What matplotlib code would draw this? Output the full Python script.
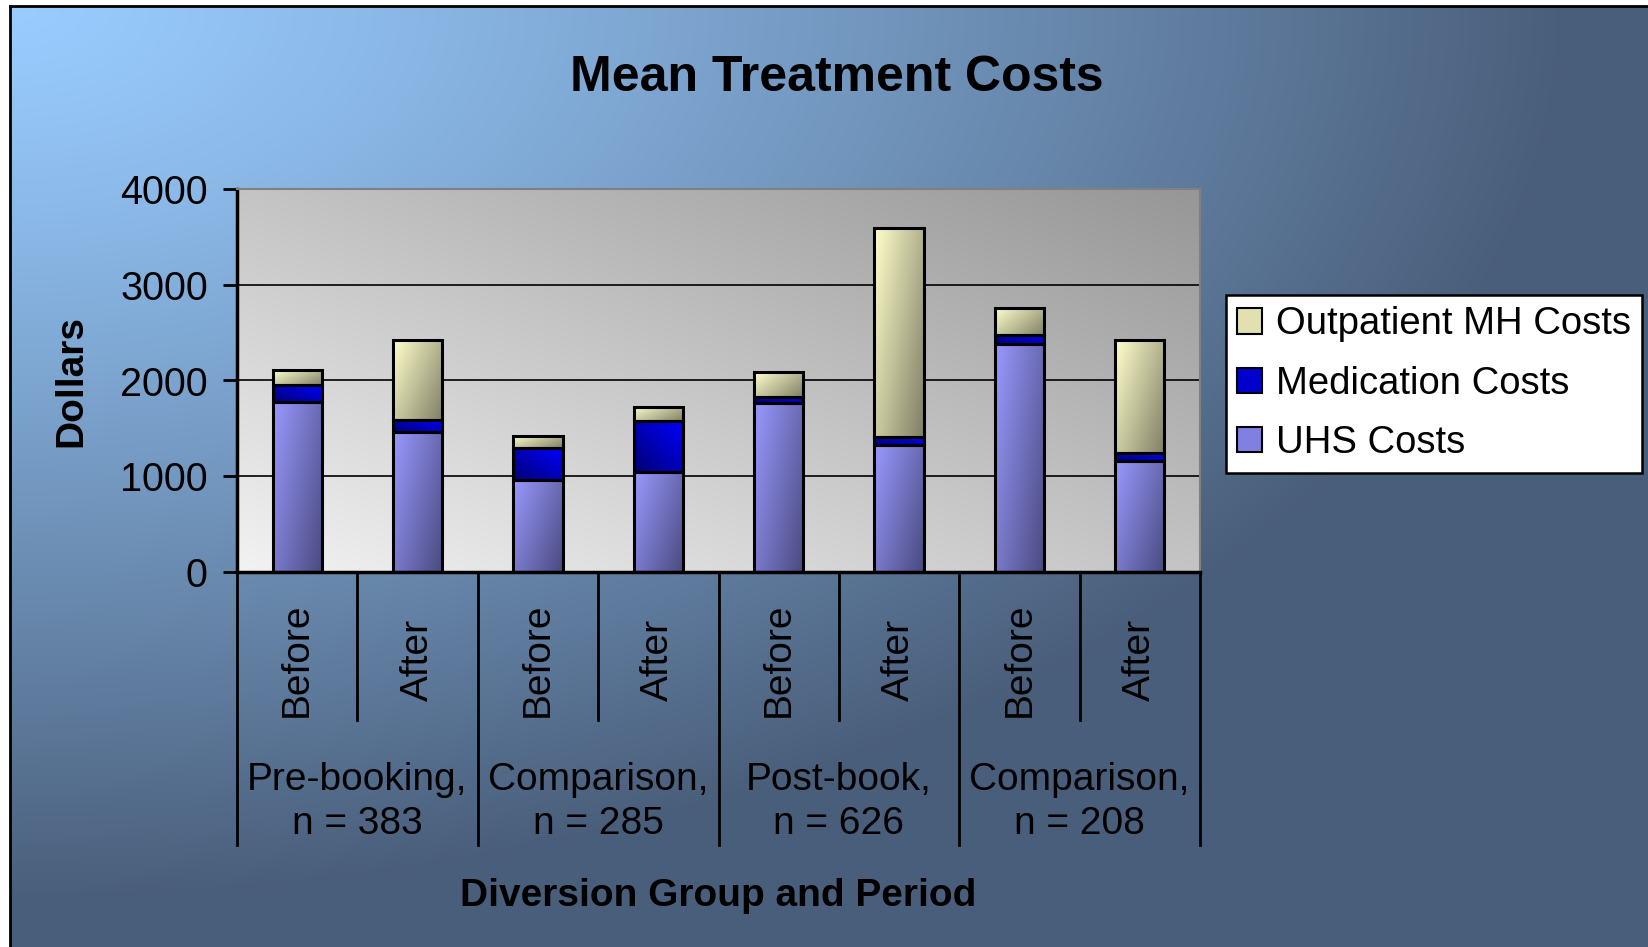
import numpy as np
import matplotlib.pyplot as plt
from matplotlib.patches import Patch
from matplotlib.transforms import blended_transform_factory

plt.rcParams['font.family'] = ['Liberation Sans', 'DejaVu Sans']

# data
groups = ['Pre-booking,\nn = 383', 'Comparison,\nn = 285',
          'Post-book,\nn = 626', 'Comparison,\nn = 208']
periods = ['Before', 'After', 'Before', 'After', 'Before', 'After', 'Before', 'After']
uhs = [1780, 1460, 960, 1040, 1760, 1325, 2380, 1160]
medication = [175, 130, 330, 535, 70, 90, 95, 85]
outpatient = [150, 830, 130, 150, 255, 2175, 280, 1175]
series_names = ['UHS Costs', 'Medication Costs', 'Outpatient MH Costs']
yticks = [0, 1000, 2000, 3000, 4000]

UHS_LIGHT, UHS_DARK = (0.60, 0.60, 1.00), (0.29, 0.29, 0.50)
MED_LIGHT, MED_DARK = (0.00, 0.00, 1.00), (0.00, 0.00, 0.45)
OUT_LIGHT, OUT_DARK = (1.00, 1.00, 0.80), (0.50, 0.50, 0.40)


def gradient_fill(ax, patch, light, dark, flip=False):
    x0, y0 = patch.get_xy()
    w, h = patch.get_width(), patch.get_height()
    u = np.linspace(0, 1, 40)[None, :]
    v = np.linspace(0, 1, 60)[:, None]
    if flip:
        t = 0.5 * (1 - u) + 0.5 * (1 - v)
    else:
        t = 0.6 * u + 0.4 * (1 - v)
    light = np.array(light)
    dark = np.array(dark)
    img = light * (1 - t[..., None]) + dark * t[..., None]
    im = ax.imshow(img, extent=(x0, x0 + w, y0, y0 + h), origin='lower',
                   aspect='auto', zorder=2, interpolation='bilinear')
    im.set_clip_path(patch)


fig = plt.figure(figsize=(16.48, 9.47), dpi=100, facecolor='white')

# figure background gradient, light blue top-left to slate bottom-right
bg = fig.add_axes([10 / 1648, 0, 1 - 10 / 1648, 1 - 6 / 947], zorder=0)
yy, xx = np.mgrid[0:1:200j, 0:1:340j]
t = np.clip(np.sqrt(xx ** 2 + yy ** 2) / 0.95, 0, 1) ** 1.2
c0 = np.array([0.60, 0.80, 1.00])
c1 = np.array([0.29, 0.37, 0.48])
bg.imshow(c0 * (1 - t[..., None]) + c1 * t[..., None], aspect='auto',
          extent=(0, 1, 0, 1), interpolation='bilinear')
bg.set_xticks([])
bg.set_yticks([])
bg.spines['right'].set_visible(False)
bg.spines['bottom'].set_visible(False)
bg.spines['left'].set_linewidth(2)
bg.spines['top'].set_linewidth(2)

ax = fig.add_axes([237 / 1648, 375 / 947, 963 / 1648, 383 / 947], zorder=1)
ax.set_facecolor('none')

# plot area gradient
u = np.linspace(0, 1, 100)[None, :]
v = np.linspace(0, 1, 100)[:, None]
g = 0.95 - 0.36 * (u + v) / 2
ax.imshow(np.dstack([g, g, g]), extent=(0, 1, 0, 1), origin='lower',
          transform=ax.transAxes, aspect='auto', zorder=0, interpolation='bilinear')

x = np.arange(len(periods))
bw = 0.41
b1 = ax.bar(x, uhs, bw, facecolor='none', edgecolor='black', linewidth=2.2, zorder=3)
bottom2 = np.array(uhs)
b2 = ax.bar(x, medication, bw, bottom=bottom2, facecolor='none',
            edgecolor='black', linewidth=2.2, zorder=3)
bottom3 = bottom2 + np.array(medication)
b3 = ax.bar(x, outpatient, bw, bottom=bottom3, facecolor='none',
            edgecolor='black', linewidth=2.2, zorder=3)
for p in b1:
    gradient_fill(ax, p, UHS_LIGHT, UHS_DARK)
for p in b2:
    gradient_fill(ax, p, MED_LIGHT, MED_DARK, flip=True)
for p in b3:
    gradient_fill(ax, p, OUT_LIGHT, OUT_DARK)

ax.set_xlim(-0.5, len(periods) - 0.5)
ax.set_ylim(0, 4000)
ax.set_yticks(yticks)
ax.set_yticklabels([str(v) for v in yticks], fontsize=28.5)
ax.tick_params(axis='y', direction='out', length=10, width=2, pad=11)
ax.set_xticks([])
ax.yaxis.grid(True, color='black', linewidth=1.2)
ax.set_axisbelow(True)
for s in ['left', 'bottom']:
    ax.spines[s].set_linewidth(2.5)
for s in ['top', 'right']:
    ax.spines[s].set_color('#808080')
    ax.spines[s].set_linewidth(1.5)

# multi-level category axis
trans = blended_transform_factory(ax.transData, ax.transAxes)
for k in range(len(periods) + 1):
    low = -0.713 if k % 2 == 0 else -0.386
    ax.plot([k - 0.5, k - 0.5], [0, low], color='black', linewidth=2,
            transform=trans, clip_on=False)
for i, lab in enumerate(periods):
    ax.text(i, -0.23, lab, rotation=90, ha='center', va='center',
            fontsize=28, transform=trans)
for gi, lab in enumerate(groups):
    ax.text(2 * gi + 0.5, -0.6, lab, ha='center', va='center',
            fontsize=28, transform=trans, linespacing=1.3)

ax.text(0.5, -0.845, 'Diversion Group and Period', ha='center', va='center',
        fontsize=28, fontweight='bold', transform=ax.transAxes)
ax.set_ylabel('Dollars', fontsize=28, fontweight='bold', labelpad=22)

fig.text(0.508, 1 - 91 / 947, 'Mean Treatment Costs', ha='center', va='baseline',
         fontsize=36, fontweight='bold')

handles = [Patch(facecolor='#E0E0B0', edgecolor='black', linewidth=1.5),
           Patch(facecolor='#0000CC', edgecolor='black', linewidth=1.5),
           Patch(facecolor='#8080E0', edgecolor='black', linewidth=1.5)]
leg = ax.legend(handles, series_names[::-1], loc='upper left',
                bbox_to_anchor=(1226 / 1648, 1 - 295 / 947),
                bbox_transform=fig.transFigure, fontsize=27.5, frameon=True,
                fancybox=False, framealpha=1, borderaxespad=0, borderpad=0.3,
                handlelength=0.65, handleheight=0.65, handletextpad=0.35,
                labelspacing=0.61)
leg.get_frame().set_edgecolor('black')
leg.get_frame().set_linewidth(1.8)

fig.savefig('out.png', dpi=100, facecolor=fig.get_facecolor())
